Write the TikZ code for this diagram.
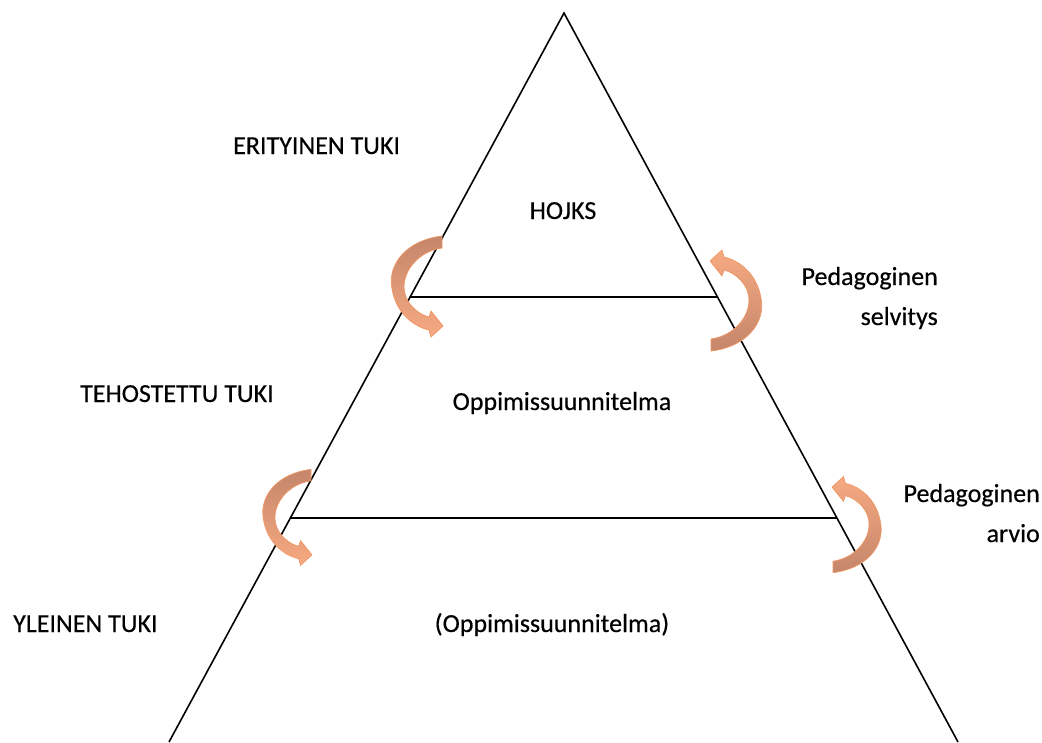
\documentclass[tikz,border=0pt]{standalone}
\usepackage{fontspec}
\setmainfont{Carlito}[FakeBold=0.4]
\usetikzlibrary{calc}
\definecolor{arrdark}{RGB}{196,134,106}
\definecolor{arrlight}{RGB}{247,170,130}
\definecolor{arrline}{RGB}{241,150,100}
\tikzset{
  lbl/.style={font=\fontsize{26}{30}\selectfont, inner sep=0pt},
  edge/.style={line width=1.6pt, black},
  arrowshape/.style={draw=arrline, line width=0.7pt},
  pics/carrow/.style={code={
    \path[arrowshape,#1] (0,-48) .. controls (-35,-44) and (-55,-20) .. (-50,5)
      .. controls (-46,28) and (-30,42) .. (-13,46) -- (-11,53) -- (1,42) -- (-11,27) -- (-13,33)
      .. controls (-25,30) and (-38,18) .. (-38,3)
      .. controls (-38,-15) and (-22,-33) .. (0,-36) -- cycle;
  }}
}
\begin{document}
\begin{tikzpicture}[x=1pt,y=-1pt]
\useasboundingbox (0,0) rectangle (1042,742);
% triangle
\coordinate (apex) at (564,13);
\coordinate (bl) at (169,742);
\coordinate (br) at (958,742);
\coordinate (l1) at ($(apex)!0.3896!(bl)$);
\coordinate (r1) at ($(apex)!0.3896!(br)$);
\coordinate (l2) at ($(apex)!0.6927!(bl)$);
\coordinate (r2) at ($(apex)!0.6927!(br)$);
\draw[edge] (bl) -- (apex) -- (br);
\draw[edge] (l1) -- (r1);
\draw[edge] (l2) -- (r2);
% arrows
\pic (a1) at (442,284) {carrow={top color=arrdark, middle color=arrlight!85!arrdark, bottom color=arrlight}};
\pic (a2) at (311,515) [scale=0.95] {carrow={top color=arrdark, middle color=arrlight!85!arrdark, bottom color=arrlight}};
\pic (a3) at (711,303) [rotate=180] {carrow={top color=arrlight, middle color=arrlight!85!arrdark, bottom color=arrdark}};
\pic (a4) at (833,527) [rotate=180, scale=0.95] {carrow={top color=arrlight, middle color=arrlight!85!arrdark, bottom color=arrdark}};
% labels
\node[lbl, anchor=base west] (eri) at (233,154) {ERITYINEN TUKI};
\node[lbl, anchor=base] (hojks) at (563,219) {HOJKS};
\node[lbl, anchor=base east] (ped1) at (938,285) {Pedagoginen};
\node[lbl, anchor=base east] (selv) at (938,325) {selvitys};
\node[lbl, anchor=base west] (teh) at (80,402) {TEHOSTETTU TUKI};
\node[lbl, anchor=base] (opp) at (562,410) {Oppimissuunnitelma};
\node[lbl, anchor=base east] (ped2) at (1040,502) {Pedagoginen};
\node[lbl, anchor=base east] (arv) at (1040,542) {arvio};
\node[lbl, anchor=base west] (yle) at (13,632) {YLEINEN TUKI};
\node[lbl, anchor=base] (opp2) at (552,632) {(Oppimissuunnitelma)};
\end{tikzpicture}
\end{document}
